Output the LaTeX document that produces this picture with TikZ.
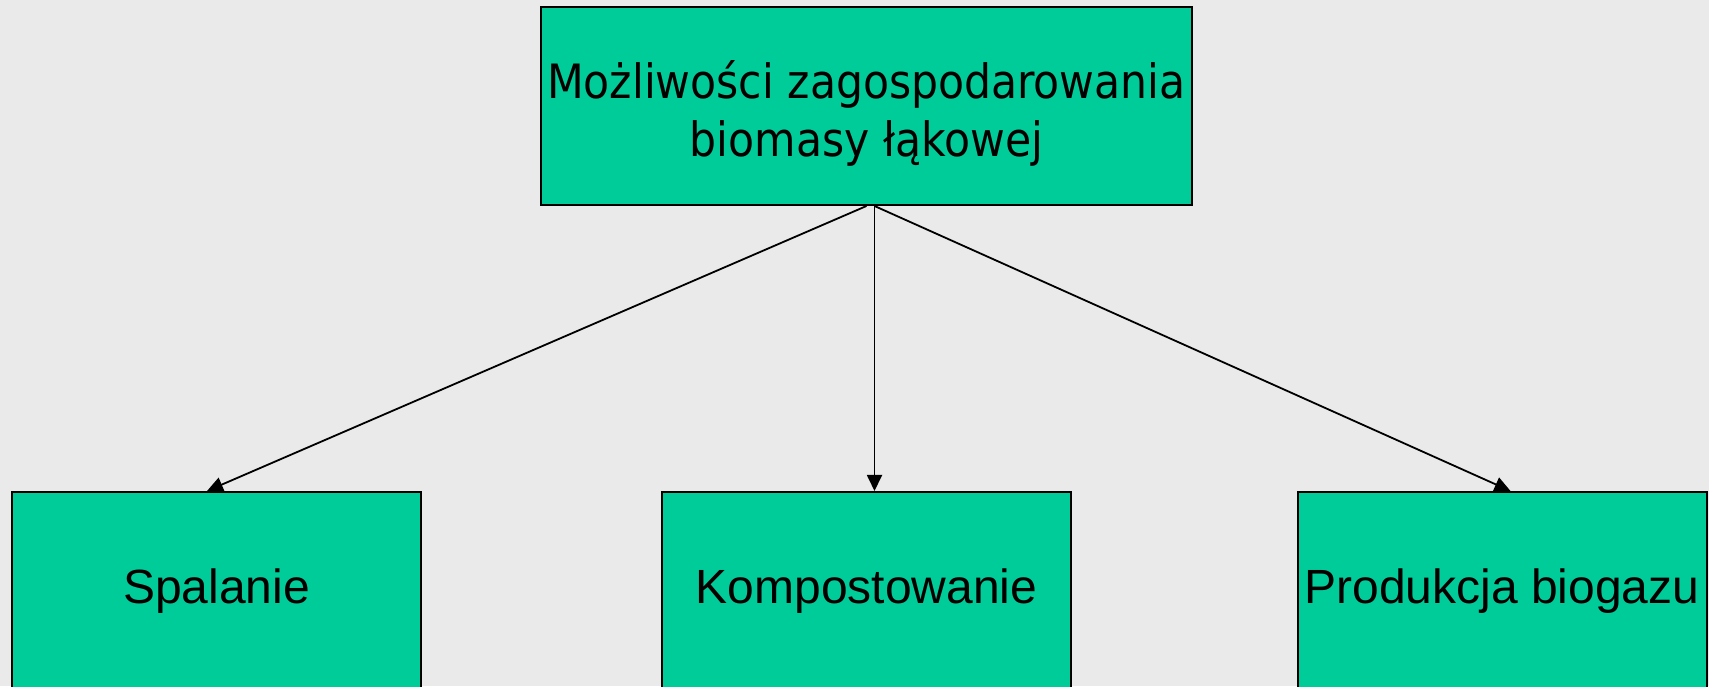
\documentclass[tikz,border=0pt]{standalone}
\usepackage{fontspec}
\setmainfont{Liberation Sans}
\newfontfamily\topfont{DejaVu Sans Condensed}
\usetikzlibrary{arrows.meta,calc}
\definecolor{bgc}{HTML}{EAEAEA}
\definecolor{boxc}{HTML}{00CC99}
\tikzset{
  box/.style={draw=black, fill=boxc, line width=2pt, inner sep=0pt, align=center},
  topbox/.style={box, minimum width=651pt, minimum height=198pt, font=\topfont\fontsize{47.3}{58}\selectfont},
  lowbox/.style={box, minimum width=409pt, minimum height=198pt, font=\fontsize{48}{58}\selectfont},
  conn/.style={line width=1.8pt, -{Triangle[length=16pt,width=15pt]}}
}
\begin{document}
\begin{tikzpicture}[x=1pt,y=1pt]
\fill[bgc] (0,0) rectangle (1709,686);
\useasboundingbox (0,0) rectangle (1709,686);
\node[topbox] (top) at (866.5,580) {\raisebox{-10pt}[\height][\depth]{\begin{tabular}{@{}c@{}}Możliwości zagospodarowania\\biomasy łąkowej\end{tabular}}};
\node[lowbox] (spal) at (216.5,95) {Spalanie};
\node[lowbox] (komp) at (866.5,95) {Kompostowanie};
\node[lowbox] (prod) at (1502,95) {Produkcja biogazu};
\coordinate (sL) at ($(top.south)+(0,0)$);
\coordinate (sM) at ($(top.south)+(8,0)$);
\coordinate (eL) at ($(spal.north)+(-9.5,0)$);
\coordinate (eM) at ($(komp.north)+(8,0)$);
\coordinate (eR) at ($(prod.north)+(8.5,0)$);
\draw[conn] (sL) -- (eL);
\draw[conn] (sM) -- (eM);
\draw[conn] (sM) -- (eR);
\end{tikzpicture}
\end{document}
